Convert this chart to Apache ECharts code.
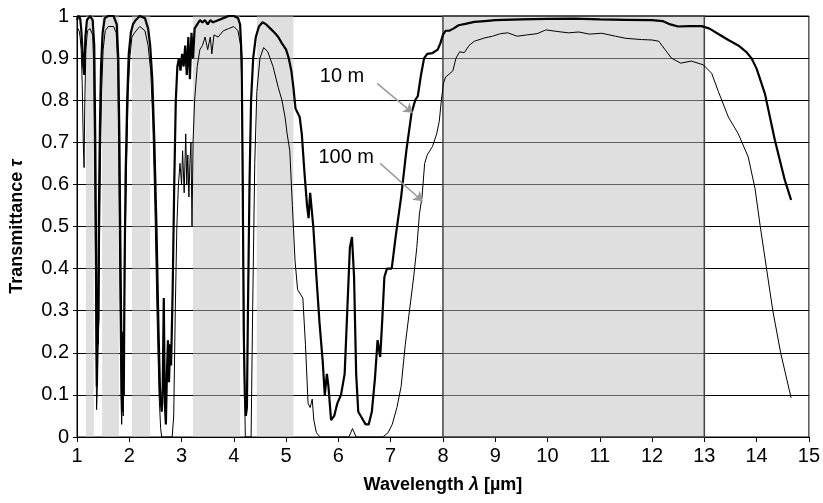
<!DOCTYPE html>
<html lang="en">
<head>
    <meta charset="UTF-8">
    <title>Transmittance</title>
    <script type="text/javascript" src="https://cdn.jsdelivr.net/npm/echarts@6/dist/echarts.min.js"></script>
    <style>
        html, body { margin: 0; padding: 0; background: #fff; }
        #main { width: 823px; height: 503px; }
    </style>
</head>
<body>
<div id="main"></div>
<script>
    // wavelength (µm) and transmittance for a 10 m path
    var wl10 = [1.00,1.03,1.06,1.08,1.10,1.12,1.14,1.16,1.19,1.25,1.30,1.33,1.35,1.37,1.38,1.395,1.41,1.42,1.44,1.46,1.49,1.53,1.6,1.7,1.76,1.79,1.81,1.83,1.85,1.865,1.88,1.895,1.91,1.93,1.96,1.99,2.03,2.07,2.12,2.2,2.3,2.36,2.40,2.44,2.48,2.52,2.56,2.59,2.62,2.64,2.66,2.68,2.70,2.72,2.74,2.76,2.78,2.80,2.83,2.86,2.89,2.92,2.95,2.98,3.01,3.04,3.07,3.10,3.13,3.16,3.19,3.22,3.25,3.30,3.35,3.4,3.45,3.5,3.55,3.6,3.7,3.8,3.9,4.0,4.08,4.12,4.15,4.17,4.19,4.21,4.23,4.25,4.27,4.30,4.33,4.37,4.42,4.48,4.55,4.62,4.7,4.78,4.85,4.92,5.0,5.05,5.1,5.14,5.18,5.22,5.26,5.3,5.35,5.4,5.43,5.46,5.49,5.52,5.58,5.64,5.7,5.74,5.78,5.81,5.86,5.92,5.98,6.05,6.12,6.17,6.22,6.26,6.3,6.34,6.38,6.45,6.52,6.58,6.64,6.7,6.75,6.8,6.84,6.88,6.93,7.02,7.1,7.2,7.3,7.4,7.47,7.52,7.58,7.64,7.7,7.8,7.9,7.95,8.0,8.05,8.12,8.2,8.3,8.45,8.6,8.8,9.0,9.5,10.0,10.5,11.0,11.5,12.0,12.2,12.35,12.5,12.7,12.95,13.1,13.3,13.46,13.65,13.8,13.9,14.0,14.16,14.35,14.54,14.66];
    var t10 = [0.99,1.00,0.995,0.97,0.93,0.88,0.86,0.95,0.99,1.00,0.99,0.93,0.7,0.35,0.12,0.25,0.28,0.55,0.75,0.88,0.96,0.995,1.0,1.0,0.98,0.9,0.72,0.45,0.2,0.06,0.25,0.1,0.4,0.62,0.8,0.91,0.96,0.98,0.99,1.0,0.995,0.97,0.93,0.85,0.7,0.5,0.25,0.1,0.06,0.12,0.33,0.08,0.03,0.15,0.23,0.13,0.22,0.17,0.35,0.6,0.8,0.88,0.9,0.87,0.91,0.88,0.93,0.86,0.95,0.85,0.96,0.9,0.97,0.98,0.99,0.985,0.99,0.98,0.99,0.985,0.99,0.995,1.0,1.0,0.995,0.98,0.9,0.6,0.25,0.1,0.05,0.07,0.3,0.6,0.8,0.9,0.95,0.975,0.985,0.98,0.97,0.96,0.95,0.935,0.92,0.9,0.87,0.83,0.78,0.77,0.76,0.72,0.63,0.55,0.52,0.58,0.58,0.5,0.38,0.27,0.18,0.1,0.15,0.12,0.04,0.05,0.08,0.1,0.15,0.3,0.45,0.475,0.38,0.15,0.06,0.045,0.03,0.03,0.06,0.14,0.23,0.19,0.28,0.38,0.4,0.4,0.48,0.57,0.68,0.77,0.8,0.81,0.86,0.9,0.91,0.912,0.92,0.935,0.955,0.965,0.965,0.97,0.978,0.982,0.986,0.988,0.99,0.992,0.993,0.994,0.992,0.991,0.99,0.988,0.98,0.975,0.976,0.976,0.97,0.955,0.943,0.93,0.915,0.9,0.875,0.815,0.705,0.61,0.563];

    // wavelength (µm) and transmittance for a 100 m path
    var wl100 = [1.00,1.02,1.04,1.06,1.08,1.10,1.12,1.135,1.15,1.17,1.2,1.25,1.3,1.32,1.34,1.36,1.375,1.39,1.40,1.41,1.43,1.45,1.47,1.5,1.54,1.6,1.7,1.75,1.78,1.80,1.82,1.84,1.855,1.87,1.885,1.9,1.92,1.95,1.98,2.01,2.05,2.1,2.2,2.3,2.36,2.41,2.45,2.49,2.53,2.57,2.6,2.62,2.82,2.85,2.88,2.91,2.94,2.97,3.0,3.02,3.05,3.08,3.1,3.12,3.14,3.16,3.18,3.2,3.22,3.25,3.3,3.35,3.4,3.45,3.5,3.55,3.58,3.62,3.7,3.8,3.9,4.0,4.08,4.13,4.16,4.18,4.2,4.22,4.33,4.36,4.4,4.44,4.5,4.57,4.65,4.75,4.85,4.92,4.98,5.02,5.07,5.12,5.17,5.22,5.27,5.32,5.37,5.42,5.46,5.5,5.53,5.58,5.65,6.2,6.27,6.34,6.85,6.95,7.03,7.12,7.2,7.28,7.36,7.44,7.5,7.55,7.6,7.65,7.7,7.8,7.88,7.93,7.97,8.01,8.05,8.12,8.19,8.25,8.32,8.41,8.5,8.6,8.8,8.95,9.1,9.24,9.42,9.6,9.8,9.97,10.2,10.4,10.6,10.8,11.04,11.3,11.5,11.8,12.0,12.13,12.25,12.37,12.55,12.75,12.98,13.14,13.27,13.46,13.65,13.84,13.97,14.07,14.19,14.31,14.46,14.66];
    var t100 = [0.96,0.97,0.965,0.95,0.92,0.84,0.7,0.64,0.8,0.92,0.965,0.97,0.955,0.88,0.6,0.25,0.065,0.12,0.26,0.22,0.45,0.68,0.82,0.92,0.965,0.975,0.975,0.96,0.88,0.65,0.35,0.1,0.03,0.12,0.05,0.25,0.45,0.66,0.82,0.9,0.95,0.96,0.975,0.965,0.93,0.87,0.75,0.55,0.3,0.1,0.02,0.0,0.0,0.05,0.3,0.5,0.6,0.65,0.6,0.68,0.58,0.72,0.6,0.67,0.57,0.65,0.7,0.5,0.7,0.8,0.88,0.92,0.93,0.95,0.92,0.95,0.91,0.955,0.95,0.965,0.97,0.975,0.965,0.93,0.8,0.5,0.15,0.0,0.0,0.3,0.65,0.82,0.9,0.925,0.915,0.88,0.83,0.8,0.76,0.72,0.68,0.55,0.42,0.35,0.34,0.33,0.22,0.08,0.07,0.09,0.04,0.01,0.0,0.0,0.02,0.0,0.0,0.01,0.03,0.07,0.12,0.22,0.3,0.38,0.45,0.53,0.57,0.65,0.67,0.69,0.72,0.75,0.8,0.84,0.855,0.862,0.87,0.9,0.915,0.913,0.93,0.94,0.948,0.952,0.958,0.96,0.952,0.955,0.958,0.967,0.963,0.96,0.962,0.957,0.959,0.952,0.947,0.944,0.943,0.94,0.92,0.9,0.888,0.893,0.884,0.864,0.82,0.76,0.72,0.665,0.59,0.5,0.4,0.3,0.2,0.093];

    // atmospheric windows (µm)
    var bandStart = [1.17, 1.48, 2.05, 3.22, 4.44];
    var bandEnd   = [1.32, 1.80, 2.40, 4.12, 5.14];
    var mainBand  = [8, 13];

    // callouts: label point, arrow start, arrow tip (data coords)
    var labels    = ['10 m', '100 m'];
    var labelAt   = [[6.07, 0.857], [6.15, 0.665]];
    var arrowFrom = [[6.74, 0.84], [6.80, 0.65]];
    var arrowTo   = [[7.42, 0.77], [7.61, 0.56]];

    var FONT = "'Liberation Sans', Arial, sans-serif";

    function pairs(xs, ys) {
        return xs.map(function (x, i) { return [x, ys[i]]; });
    }

    var areas = bandStart.map(function (s, i) {
        return [{ xAxis: s, yAxis: 0 }, { xAxis: bandEnd[i], yAxis: 1 }];
    });
    areas.push([
        { xAxis: mainBand[0], yAxis: 0, itemStyle: { borderColor: '#444', borderWidth: 1.5 } },
        { xAxis: mainBand[1], yAxis: 1 }
    ]);

    var arrows = arrowFrom.map(function (p, i) {
        return [{ coord: p }, { coord: arrowTo[i] }];
    });

    var chart = echarts.init(document.getElementById('main'));
    var option = {
        animation: false,
        grid: {
            left: 76, right: 12, top: 16, bottom: 66,
            show: true, borderColor: '#000', borderWidth: 1
        },
        xAxis: {
            type: 'value', min: 1, max: 15, interval: 1,
            name: 'Wavelength {i|λ} [µm]',
            nameLocation: 'middle', nameGap: 39,
            nameTextStyle: {
                fontFamily: FONT, fontSize: 18, fontWeight: 'bold', color: '#000',
                rich: { i: { fontFamily: FONT, fontSize: 18, fontWeight: 'bold', fontStyle: 'italic', color: '#000' } }
            },
            axisLine: { lineStyle: { color: '#000', width: 1 } },
            axisTick: { show: true, length: 5, lineStyle: { color: '#000' } },
            axisLabel: { fontFamily: FONT, fontSize: 20, color: '#000', margin: 9 },
            splitLine: { show: false }
        },
        yAxis: {
            type: 'value', min: 0, max: 1, interval: 0.1,
            name: 'Transmittance {i|τ}',
            nameLocation: 'middle', nameGap: 51,
            nameTextStyle: {
                fontFamily: FONT, fontSize: 18, fontWeight: 'bold', color: '#000',
                rich: { i: { fontFamily: FONT, fontSize: 18, fontWeight: 'bold', fontStyle: 'italic', color: '#000' } }
            },
            axisLine: { show: true, lineStyle: { color: '#000', width: 1 } },
            axisTick: { show: true, length: 4, lineStyle: { color: '#000' } },
            axisLabel: { fontFamily: FONT, fontSize: 20, color: '#000', margin: 8 },
            splitLine: { show: true, lineStyle: { color: '#000', width: 1 } }
        },
        series: [
            {
                // bands and arrows only
                type: 'line', data: [], z: 1, silent: true,
                markArea: {
                    silent: true,
                    itemStyle: { color: 'rgba(192,192,192,0.5)' },
                    data: areas
                },
                markLine: {
                    silent: true,
                    symbol: ['none', 'arrow'], symbolSize: 9,
                    lineStyle: { color: '#999', width: 1.5, type: 'solid' },
                    label: { show: false },
                    data: arrows
                }
            },
            {
                name: '10 m', type: 'line', z: 3,
                data: pairs(wl10, t10),
                showSymbol: false,
                lineStyle: { color: '#000', width: 2.2 }
            },
            {
                name: '100 m', type: 'line', z: 2,
                data: pairs(wl100, t100),
                showSymbol: false,
                lineStyle: { color: '#000', width: 1 }
            }
        ]
    };
    chart.setOption(option);

    // callout texts placed from data coords
    chart.setOption({
        graphic: labels.map(function (txt, i) {
            var p = chart.convertToPixel({ gridIndex: 0 }, labelAt[i]);
            return {
                type: 'text', x: p[0], y: p[1], z: 10,
                style: { text: txt, fontFamily: FONT, fontSize: 20, fill: '#000', align: 'center', verticalAlign: 'middle' }
            };
        })
    });
</script>
</body>
</html>
